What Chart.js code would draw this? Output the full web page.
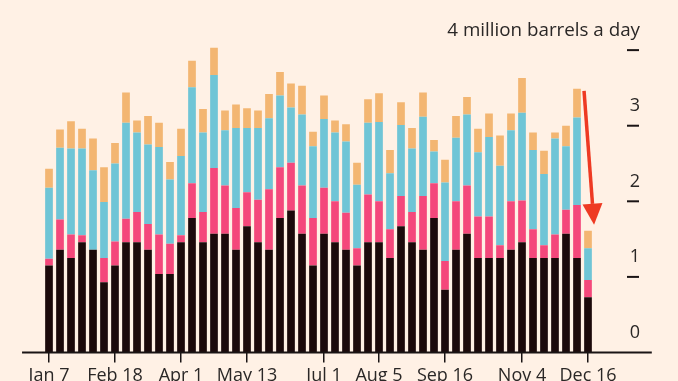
<!DOCTYPE html>
<html>
<head>
<meta charset="utf-8">
<script src="https://cdn.jsdelivr.net/npm/chart.js@4"></script>
<style>
  html, body { margin: 0; padding: 0; background: #fff1e5; }
  #wrap { width: 678px; height: 381px; position: relative; }
</style>
</head>
<body>
<div id="wrap"><canvas id="chart"></canvas></div>
<script>
// weekly dates
const weeks = [
    'Jan 7', 'Jan 14', 'Jan 21', 'Jan 28', 'Feb 4', 'Feb 11', 'Feb 18', 'Feb 25',
    'Mar 4', 'Mar 11', 'Mar 18', 'Mar 25', 'Apr 1', 'Apr 8', 'Apr 15', 'Apr 22', 'Apr 29',
    'May 6', 'May 13', 'May 20', 'May 27', 'Jun 3', 'Jun 10', 'Jun 17', 'Jun 24',
    'Jul 1', 'Jul 8', 'Jul 15', 'Jul 22', 'Jul 29', 'Aug 5', 'Aug 12', 'Aug 19', 'Aug 26',
    'Sep 2', 'Sep 9', 'Sep 16', 'Sep 23', 'Sep 30', 'Oct 7', 'Oct 14', 'Oct 21', 'Oct 28',
    'Nov 4', 'Nov 11', 'Nov 18', 'Nov 25', 'Dec 2', 'Dec 9', 'Dec 16'
];
const shownLabels = ['Jan 7', 'Feb 18', 'Apr 1', 'May 13', 'Jul 1', 'Aug 5', 'Sep 16', 'Nov 4', 'Dec 16'];

// million barrels a day, bottom to top
const black = [1.15, 1.36, 1.25, 1.46, 1.36, 0.93, 1.15, 1.46, 1.46, 1.36, 1.04, 1.04,
    1.46, 1.78, 1.46, 1.57, 1.57, 1.36, 1.67, 1.46, 1.36, 1.78, 1.88, 1.57,
    1.15, 1.57, 1.46, 1.36, 1.15, 1.46, 1.46, 1.25, 1.67, 1.46, 1.36, 1.78,
    0.83, 1.36, 1.57, 1.25, 1.25, 1.25, 1.36, 1.46, 1.25, 1.25, 1.25, 1.57, 1.25, 0.73];
const pink = [0.09, 0.40, 0.31, 0.09, 0, 0.32, 0.32, 0.31, 0.40, 0.34, 0.52, 0.40,
    0.09, 0.46, 0.40, 0.87, 0.64, 0.55, 0.45, 0.56, 0.80, 0.67, 0.63, 0.64,
    0.63, 0.61, 0.54, 0.49, 0.23, 0.63, 0.54, 0.38, 0.40, 0.40, 0.71, 0.46,
    0.38, 0.64, 0.64, 0.55, 0.55, 0.17, 0.64, 0.55, 0.38, 0.17, 0.31, 0.32, 0.70, 0.23];
const blue = [0.94, 0.95, 1.14, 1.15, 1.05, 0.74, 1.03, 1.27, 1.05, 1.05, 1.16, 0.85,
    1.05, 1.27, 1.05, 1.23, 0.73, 1.06, 0.85, 0.95, 0.94, 0.95, 0.73, 0.94,
    0.95, 0.91, 0.91, 0.94, 0.84, 0.95, 1.05, 0.74, 0.94, 0.84, 1.05, 0.42,
    1.04, 0.84, 0.94, 0.85, 1.05, 1.05, 0.94, 1.16, 1.05, 0.94, 1.27, 0.84, 1.16, 0.42];
const orange = [0.25, 0.24, 0.36, 0.26, 0.42, 0.46, 0.27, 0.40, 0.16, 0.38, 0.32, 0.23,
    0.36, 0.35, 0.31, 0.36, 0.26, 0.31, 0.26, 0.23, 0.32, 0.31, 0.32, 0.38,
    0.19, 0.31, 0.16, 0.23, 0.29, 0.31, 0.38, 0.31, 0.30, 0.27, 0.32, 0.15,
    0.30, 0.29, 0.23, 0.31, 0.31, 0.40, 0.22, 0.46, 0.23, 0.31, 0.08, 0.27, 0.38, 0.23];

const yTicks = [0, 1, 2, 3, 4];
const yTickLabels = ['0', '1', '2', '3', '4 million barrels a day'];

const textColor = '#2a2726';
const font = '"Open Sans", sans-serif';

const overlay = {
    id: 'overlay',
    beforeDraw(chart) {
        const ctx = chart.ctx;
        ctx.save();
        ctx.fillStyle = '#fff1e5';
        ctx.fillRect(0, 0, chart.width, chart.height);
        ctx.restore();
    },
    afterDatasetsDraw(chart) {
        const ctx = chart.ctx;
        const x = chart.scales.x;
        const y = chart.scales.y;
        const right = chart.chartArea.right;
        ctx.save();

        // baseline
        ctx.strokeStyle = '#1a1414';
        ctx.lineWidth = 2;
        ctx.beginPath();
        ctx.moveTo(x.getPixelForValue(-2.45), y.getPixelForValue(0));
        ctx.lineTo(x.getPixelForValue(54.8), y.getPixelForValue(0));
        ctx.stroke();

        // right-hand value ticks
        ctx.fillStyle = textColor;
        ctx.textAlign = 'right';
        ctx.textBaseline = 'alphabetic';
        yTicks.forEach((v, i) => {
            const py = y.getPixelForValue(v);
            if (v > 0) {
                ctx.beginPath();
                ctx.moveTo(right + 33.5, py);
                ctx.lineTo(right + 45.5, py);
                ctx.stroke();
            }
            ctx.font = (v === 4 ? '18.8px ' : '18px ') + font;
            ctx.fillText(yTickLabels[i], right + 46.5, py - 14.5);
        });

        // red arrow
        const x0 = x.getPixelForValue(48.64), y0 = y.getPixelForValue(3.46);
        const x1 = x.getPixelForValue(49.55), y1 = y.getPixelForValue(1.69);
        const ang = Math.atan2(y1 - y0, x1 - x0);
        const headLen = 21, headHalf = 10;
        const bx = x1 - headLen * Math.cos(ang), by = y1 - headLen * Math.sin(ang);
        ctx.strokeStyle = '#ee3a23';
        ctx.fillStyle = '#ee3a23';
        ctx.lineWidth = 3.5;
        ctx.beginPath();
        ctx.moveTo(x0, y0);
        ctx.lineTo(bx, by);
        ctx.stroke();
        ctx.beginPath();
        ctx.moveTo(x1, y1);
        ctx.lineTo(bx + headHalf * Math.sin(ang), by - headHalf * Math.cos(ang));
        ctx.lineTo(bx - headHalf * Math.sin(ang), by + headHalf * Math.cos(ang));
        ctx.closePath();
        ctx.fill();

        ctx.restore();
    }
};

const ds = (data, color) => ({
    data: data,
    backgroundColor: color,
    borderWidth: 0,
    barPercentage: 0.7,
    categoryPercentage: 1.0
});

new Chart(document.getElementById('chart'), {
    type: 'bar',
    data: {
        labels: weeks,
        datasets: [
            ds(black, '#1c0a0b'),
            ds(pink, '#f4487b'),
            ds(blue, '#6fc5d6'),
            ds(orange, '#f3b672')
        ]
    },
    options: {
        responsive: true,
        maintainAspectRatio: false,
        devicePixelRatio: 1,
        animation: false,
        layout: { padding: { left: 43.5, right: 84.5, top: 35, bottom: 0 } },
        plugins: { legend: { display: false }, tooltip: { enabled: false } },
        scales: {
            x: {
                stacked: true,
                border: { display: false },
                grid: {
                    offset: false,
                    drawOnChartArea: false,
                    drawTicks: true,
                    tickLength: 10,
                    lineWidth: 1.5,
                    color: c => shownLabels.includes(weeks[c.index]) ? '#1a1414' : 'rgba(0,0,0,0)'
                },
                ticks: {
                    autoSkip: false,
                    maxRotation: 0,
                    padding: 3,
                    color: textColor,
                    font: { family: '"Open Sans", sans-serif', size: 18 },
                    callback: function (v, i) {
                        const l = weeks[i];
                        return shownLabels.includes(l) ? l : '';
                    }
                },
                afterFit: s => { s.height = 28.5; }
            },
            y: {
                stacked: true,
                display: false,
                min: 0,
                max: 4.2
            }
        }
    },
    plugins: [overlay]
});
</script>
</body>
</html>
